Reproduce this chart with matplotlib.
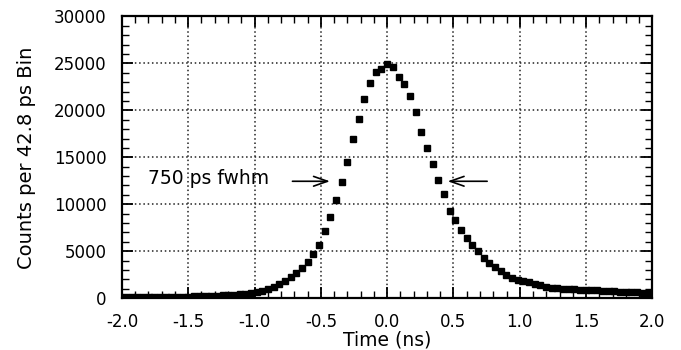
import numpy as np
import matplotlib
matplotlib.use('Agg')
import matplotlib.pyplot as plt

plt.rcParams['font.family'] = ['DejaVu Sans']
plt.rcParams['axes.unicode_minus'] = False

# bin width 42.8 ps, bins indexed around the peak
bin_ns = 0.0428
bin_index = np.arange(-47, 48)
counts = [
    75, 80, 85, 90, 95, 100, 110, 120, 130, 140, 150, 160,
    170, 185, 200, 220, 240, 260, 290, 330, 370, 420, 470, 530,
    670, 800, 980, 1230, 1500, 1780, 2220, 2650, 3180, 3880, 4700, 5680,
    7190, 8620, 10450, 12420, 14550, 16900, 19050, 21200, 22880, 24110, 24430,
    24900,
    24640, 23580, 22800, 21520, 19850, 17730, 16020, 14290, 12590, 11080, 9300,
    8330, 7220, 6380, 5670, 5060, 4300, 3790, 3330, 2880, 2500, 2200, 1950,
    1830, 1680, 1520, 1380, 1230, 1130, 1060, 1020, 980, 950, 920, 890,
    860, 830, 800, 770, 740, 710, 680, 650, 620, 600, 580, 560,
]
time_ns = bin_index * bin_ns

x_ticks = [-2.0, -1.5, -1.0, -0.5, 0.0, 0.5, 1.0, 1.5, 2.0]
y_ticks = [0, 5000, 10000, 15000, 20000, 25000, 30000]

fig = plt.figure(figsize=(6.81, 3.5), dpi=100)
ax = fig.add_axes([0.179, 0.148, 0.779, 0.805])

ax.plot(time_ns, counts, linestyle='none', marker='s', markersize=4.2,
        color='black', zorder=3)

ax.set_xlim(-2.0, 2.0)
ax.set_ylim(0, 30000)
ax.set_xticks(x_ticks)
ax.set_xticklabels(['%.1f' % v for v in x_ticks])
ax.set_yticks(y_ticks)
ax.set_xticks(np.arange(-2.0, 2.01, 0.1), minor=True)
ax.set_yticks(np.arange(0, 30001, 1000), minor=True)

ax.tick_params(which='both', direction='in', top=True, right=True, colors='black')
ax.tick_params(which='major', length=8, width=1.3, labelsize=12)
ax.tick_params(which='minor', length=5, width=1.0)
ax.tick_params(axis='x', which='major', pad=10.5)
ax.tick_params(axis='y', which='major', pad=11)

for s in ax.spines.values():
    s.set_linewidth(1.6)

ax.grid(True, which='major', color='#222222', linestyle=(0, (1, 1.8)), linewidth=1.1)
ax.set_axisbelow(True)

ax.set_xlabel('Time (ns)', fontsize=13.5, labelpad=0)
ax.set_ylabel('Counts per 42.8 ps Bin', fontsize=14, labelpad=13)

ax.text(-1.80, 12770, '750 ps fwhm', fontsize=13.5, ha='left', va='center')
arrow_style = dict(arrowstyle='->,head_length=1.0,head_width=0.35', lw=1.2, color='black')
ax.annotate('', xy=(-0.41, 12450), xytext=(-0.735, 12450), arrowprops=arrow_style)
ax.annotate('', xy=(0.435, 12450), xytext=(0.775, 12450), arrowprops=arrow_style)

fig.savefig('out.png', dpi=100)
